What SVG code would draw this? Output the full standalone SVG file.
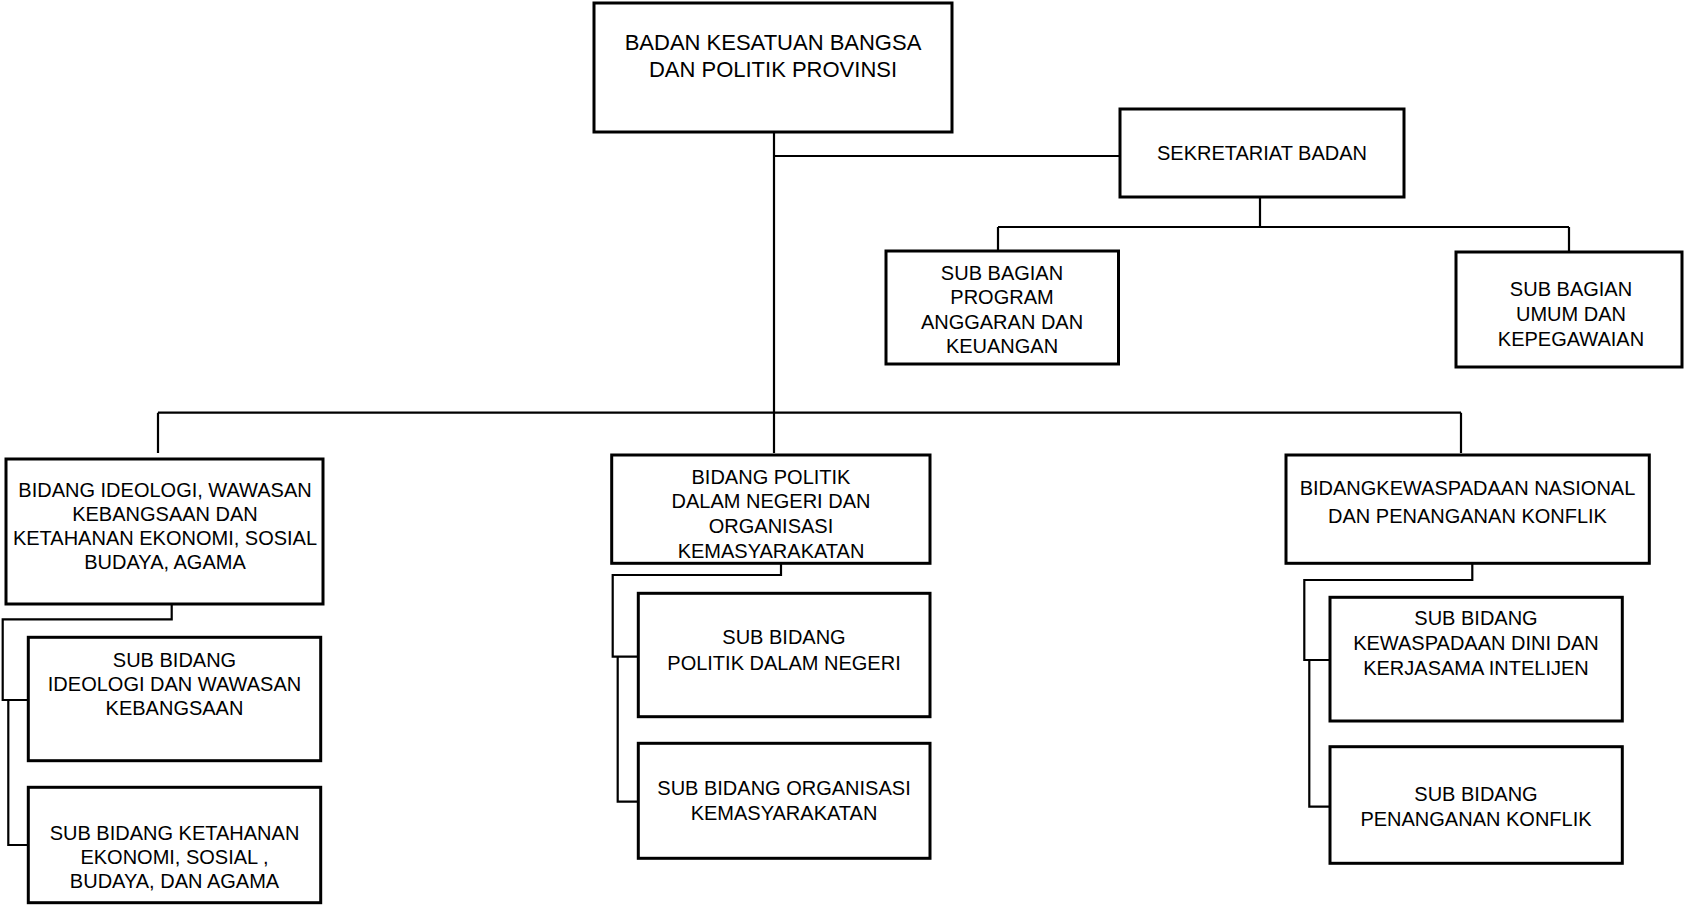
<svg xmlns="http://www.w3.org/2000/svg" width="1684" height="905" viewBox="0 0 1684 905">
<style>
.box{fill:#fff;stroke:#000;stroke-width:3}
.conn{fill:none;stroke:#000;stroke-width:2.2}
text{font-family:"Liberation Sans",Arial,sans-serif;font-size:20px;fill:#000;text-anchor:middle}
.big{font-size:22px}
</style>
<rect width="1684" height="905" fill="#fff"/>
<g id="connectors">
<path class="conn" d="M774 132 V453"/>
<path class="conn" d="M774 156 H1120"/>
<path class="conn" d="M1260 197 V227 M998 227 H1569 M998 227 V250 M1569 227 V251"/>
<path class="conn" d="M158 412.7 H1461 M158 412.7 V453 M1461 412.7 V453"/>
<path class="conn" d="M171.7 604 V619.3 H2.7 V700 H28.3 M8.3 700 V845 H28.3"/>
<path class="conn" d="M781 563 V575 H612.7 V656.7 H638.3 M617.7 656.7 V801.7 H638.3"/>
<path class="conn" d="M1472.3 563 V580 H1304.3 V660 H1330 M1309.3 660 V806.7 H1330"/>
</g>
<g id="badan">
<rect class="box" x="594" y="3" width="358" height="129"/>
<text class="big" x="773" y="50">BADAN KESATUAN BANGSA</text>
<text class="big" x="773" y="77">DAN POLITIK PROVINSI</text>
</g>
<g id="sekretariat">
<rect class="box" x="1120" y="109" width="284" height="88"/>
<text x="1262" y="160">SEKRETARIAT BADAN</text>
</g>
<g id="sub-program">
<rect class="box" x="886" y="251" width="232.5" height="113"/>
<text x="1002" y="280">SUB BAGIAN</text>
<text x="1002" y="304">PROGRAM</text>
<text x="1002" y="329">ANGGARAN DAN</text>
<text x="1002" y="353">KEUANGAN</text>
</g>
<g id="sub-umum">
<rect class="box" x="1456" y="252" width="226" height="115"/>
<text x="1571" y="296">SUB BAGIAN</text>
<text x="1571" y="321">UMUM DAN</text>
<text x="1571" y="346">KEPEGAWAIAN</text>
</g>
<g id="bidang-ideologi">
<rect class="box" x="6" y="459" width="317" height="145"/>
<text x="165" y="496.5">BIDANG IDEOLOGI, WAWASAN</text>
<text x="165" y="520.7">KEBANGSAAN DAN</text>
<text x="165" y="545">KETAHANAN EKONOMI, SOSIAL</text>
<text x="165" y="569">BUDAYA, AGAMA</text>
</g>
<g id="sub-ideologi">
<rect class="box" x="28.3" y="637.3" width="292.4" height="123.4"/>
<text x="174.5" y="666.7">SUB BIDANG</text>
<text x="174.5" y="691">IDEOLOGI DAN WAWASAN</text>
<text x="174.5" y="715">KEBANGSAAN</text>
</g>
<g id="sub-ketahanan">
<rect class="box" x="28.3" y="787.3" width="292.4" height="115.4"/>
<text x="174.5" y="840">SUB BIDANG KETAHANAN</text>
<text x="174.5" y="864.3">EKONOMI, SOSIAL ,</text>
<text x="174.5" y="888.3">BUDAYA, DAN AGAMA</text>
</g>
<g id="bidang-politik">
<rect class="box" x="611.7" y="455" width="318.3" height="108.3"/>
<text x="771" y="484">BIDANG POLITIK</text>
<text x="771" y="508.3">DALAM NEGERI DAN</text>
<text x="771" y="532.7">ORGANISASI</text>
<text x="771" y="558.3">KEMASYARAKATAN</text>
</g>
<g id="sub-politik">
<rect class="box" x="638.3" y="593.3" width="291.7" height="123.4"/>
<text x="784" y="644">SUB BIDANG</text>
<text x="784" y="670">POLITIK DALAM NEGERI</text>
</g>
<g id="sub-ormas">
<rect class="box" x="638.3" y="743.3" width="291.7" height="115"/>
<text x="784" y="795">SUB BIDANG ORGANISASI</text>
<text x="784" y="820">KEMASYARAKATAN</text>
</g>
<g id="bidang-kewaspadaan">
<rect class="box" x="1286" y="455" width="363.3" height="108.3"/>
<text x="1467.5" y="495">BIDANGKEWASPADAAN NASIONAL</text>
<text x="1467.5" y="523.3">DAN PENANGANAN KONFLIK</text>
</g>
<g id="sub-kewaspadaan">
<rect class="box" x="1330" y="597.3" width="292.3" height="123.7"/>
<text x="1476" y="625">SUB BIDANG</text>
<text x="1476" y="650">KEWASPADAAN DINI DAN</text>
<text x="1476" y="675">KERJASAMA INTELIJEN</text>
</g>
<g id="sub-penanganan">
<rect class="box" x="1330" y="746.7" width="292.3" height="116.6"/>
<text x="1476" y="801">SUB BIDANG</text>
<text x="1476" y="826">PENANGANAN KONFLIK</text>
</g>
</svg>
